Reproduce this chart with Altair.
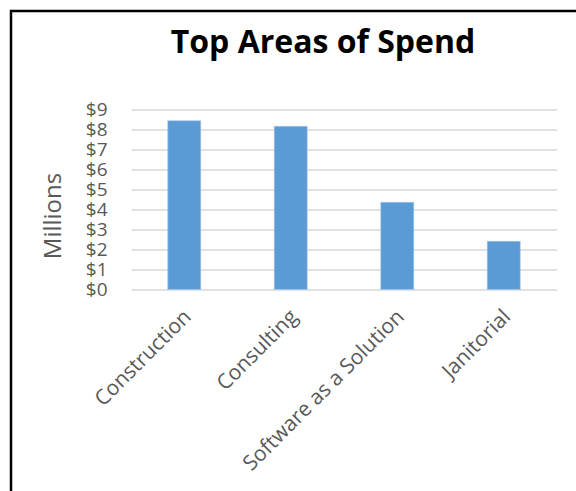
import altair as alt
import pandas as pd

title_text = "Top Areas of Spend"
categories = ["Construction", "Consulting", "Software as a Solution", "Janitorial"]
values = [8.44, 8.16, 4.36, 2.41]

df = pd.DataFrame({"category": categories, "value": values})
title_df = pd.DataFrame({"t": [title_text]})

bars = alt.Chart(df).mark_bar(color="#5B9BD5", stroke="#a9c8ea", strokeWidth=0.6).encode(
    x=alt.X("category:N", sort=categories,
            scale=alt.Scale(paddingInner=0.69, paddingOuter=0.345),
            axis=alt.Axis(title=None, labelAngle=-45, labelFontSize=21, labelColor="#595959",
                          labelFont="Open Sans", ticks=False, domain=False, labelPadding=16,
                          labelOffset=-4, labelLimit=400)),
    y=alt.Y("value:Q", scale=alt.Scale(domain=[0, 9]),
            axis=alt.Axis(title="Millions", titleFontSize=24, titleFont="Open Sans",
                          titleFontWeight="normal", titleColor="#595959", titlePadding=20,
                          titleY=106,
                          values=list(range(10)), format="$d", labelFontSize=19,
                          labelFont="Open Sans", labelColor="#595959", ticks=False,
                          domain=False, labelPadding=24, gridColor="#D9D9D9", gridWidth=1.5,
                          labelOverlap=False, labelBound=False, labelFlush=False)),
)

title = alt.Chart(title_df).mark_text(fontSize=32, font="Open Sans", fontWeight="bold",
                                      color="black", align="center", baseline="alphabetic").encode(
    text="t:N", x=alt.value(192), y=alt.value(-56.5)
)

border = alt.Chart(title_df).mark_rect(fill=None, stroke="black", strokeWidth=2.5).encode(
    x=alt.value(-120), x2=alt.value(520), y=alt.value(-98.5), y2=alt.value(460)
)

chart = alt.layer(bars, title, border).properties(
    width=426, height=180,
    autosize=alt.AutoSizeParams(type="none"),
    padding={"left": 131, "top": 109.5, "right": 19, "bottom": 201.5},
).configure_view(stroke=None)

chart.save("out.html", embed_options={"renderer": "svg", "actions": False})
